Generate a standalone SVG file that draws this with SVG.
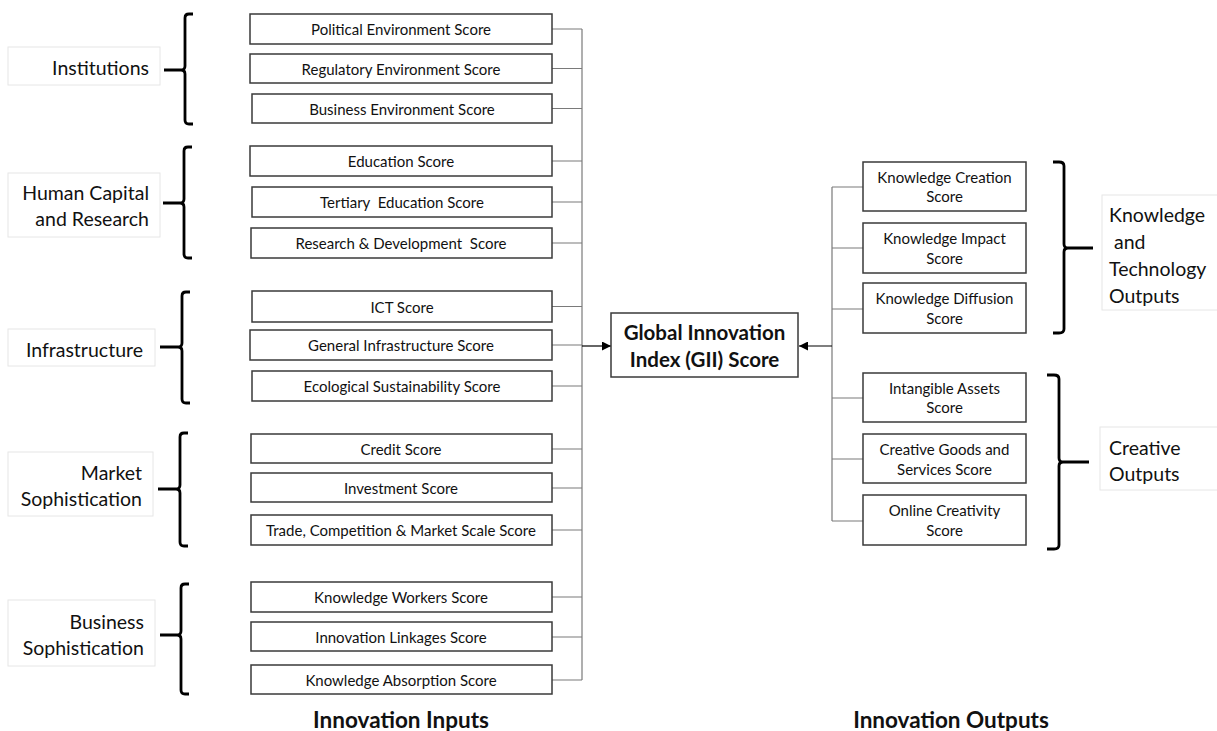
<svg xmlns="http://www.w3.org/2000/svg" width="1217" height="731" viewBox="0 0 1217 731">
<defs>
<style>
.bx{fill:#fff;stroke:#3a3a3a;stroke-width:1.5}
.lb{fill:#fff;stroke:#e6e6e6;stroke-width:1}
.t{font-family:Lato,"Liberation Sans",sans-serif;font-size:15px;fill:#111;text-anchor:middle;dominant-baseline:central;white-space:pre}
.g{font-family:Lato,"Liberation Sans",sans-serif;font-size:19.5px;fill:#111;dominant-baseline:central}
.b{font-family:Lato,"Liberation Sans",sans-serif;font-size:20.5px;font-weight:bold;fill:#111;text-anchor:middle;dominant-baseline:central}
.f{font-family:Lato,"Liberation Sans",sans-serif;font-size:22.5px;font-weight:bold;fill:#111;text-anchor:middle;dominant-baseline:central}
.c{fill:none;stroke:#7a7a7a;stroke-width:1.2}
.br{fill:none;stroke:#000;stroke-width:2.8;stroke-linecap:butt}
</style>
<marker id="ah" viewBox="0 0 10 10" refX="10" refY="5" markerWidth="9" markerHeight="9" markerUnits="userSpaceOnUse" orient="auto">
<path d="M0,0 L10,5 L0,10 z" fill="#000"/>
</marker>
</defs>

<g id="connectors">
<path class="c" d="M582 29 V680"/>
<path class="c" d="M552 29 H582 M552 68.5 H582 M552 108.5 H582 M552 161 H582 M552 202 H582 M552 243 H582 M552 306.5 H582 M552 345 H582 M552 386 H582 M552 449 H582 M552 488 H582 M552 530 H582 M552 597 H582 M552 637 H582 M552 680 H582"/>
<path d="M582 346 H611" stroke="#000" stroke-width="1.2" marker-end="url(#ah)"/>
<path class="c" d="M832 187 V521 M832 187 H863 M832 248 H863 M832 309 H863 M832 398 H863 M832 459 H863 M832 521 H863"/>
<path d="M832 346 H799" stroke="#000" stroke-width="1.2" marker-end="url(#ah)"/>
</g>

<g id="brace-institutions">
<rect class="lb" x="8" y="47" width="152" height="38"/>
<text class="g" x="149" y="67" text-anchor="end">Institutions</text>
<path class="br" d="M193 14 H189 Q185 14 185 18 V66 Q185 70 181 70 H164 M181 70 Q185 70 185 74 V120 Q185 124 189 124 H193"/>
</g>
<g id="brace-human">
<rect class="lb" x="8" y="173" width="152" height="64"/>
<text class="g" x="149" y="192" text-anchor="end">Human Capital</text>
<text class="g" x="149" y="218" text-anchor="end">and Research</text>
<path class="br" d="M192 147 H188 Q184 147 184 151 V199 Q184 203 180 203 H163 M180 203 Q184 203 184 207 V254 Q184 258 188 258 H192"/>
</g>
<g id="brace-infrastructure">
<rect class="lb" x="8" y="329" width="147" height="37"/>
<text class="g" x="143" y="349" text-anchor="end">Infrastructure</text>
<path class="br" d="M190 292 H186 Q182 292 182 296 V343 Q182 347 178 347 H160 M178 347 Q182 347 182 351 V399 Q182 403 186 403 H190"/>
</g>
<g id="brace-market">
<rect class="lb" x="8" y="452" width="145" height="64"/>
<text class="g" x="142" y="472" text-anchor="end">Market</text>
<text class="g" x="142" y="498" text-anchor="end">Sophistication</text>
<path class="br" d="M188 433 H184 Q180 433 180 437 V485 Q180 489 176 489 H158 M176 489 Q180 489 180 493 V542 Q180 546 184 546 H188"/>
</g>
<g id="brace-business">
<rect class="lb" x="8" y="600" width="147" height="66"/>
<text class="g" x="144" y="621" text-anchor="end">Business</text>
<text class="g" x="144" y="647" text-anchor="end">Sophistication</text>
<path class="br" d="M189 584 H185 Q181 584 181 588 V631 Q181 635 177 635 H160 M177 635 Q181 635 181 639 V690 Q181 694 185 694 H189"/>
</g>

<g id="n1"><rect class="bx" x="250" y="14" width="302" height="30"/><text class="t" x="401" y="29">Political Environment Score</text></g>
<g id="n2"><rect class="bx" x="250" y="54" width="302" height="29"/><text class="t" x="401" y="68.5">Regulatory Environment Score</text></g>
<g id="n3"><rect class="bx" x="252" y="94" width="300" height="29"/><text class="t" x="402" y="108.5">Business Environment Score</text></g>
<g id="n4"><rect class="bx" x="250" y="146" width="302" height="30"/><text class="t" x="401" y="161">Education Score</text></g>
<g id="n5"><rect class="bx" x="252" y="187" width="300" height="30"/><text class="t" x="402" y="202">Tertiary  Education Score</text></g>
<g id="n6"><rect class="bx" x="251" y="228" width="301" height="30"/><text class="t" x="401" y="243">Research &amp; Development  Score</text></g>
<g id="n7"><rect class="bx" x="252" y="291" width="300" height="31"/><text class="t" x="402" y="306.5">ICT Score</text></g>
<g id="n8"><rect class="bx" x="250" y="330" width="302" height="30"/><text class="t" x="401" y="345">General Infrastructure Score</text></g>
<g id="n9"><rect class="bx" x="252" y="371" width="300" height="30"/><text class="t" x="402" y="386">Ecological Sustainability Score</text></g>
<g id="n10"><rect class="bx" x="251" y="434" width="301" height="29"/><text class="t" x="401" y="449">Credit Score</text></g>
<g id="n11"><rect class="bx" x="251" y="473" width="301" height="29"/><text class="t" x="401" y="488">Investment Score</text></g>
<g id="n12"><rect class="bx" x="251" y="515" width="301" height="30"/><text class="t" x="401" y="530">Trade, Competition &amp; Market Scale Score</text></g>
<g id="n13"><rect class="bx" x="251" y="582" width="301" height="30"/><text class="t" x="401" y="597">Knowledge Workers Score</text></g>
<g id="n14"><rect class="bx" x="251" y="622" width="301" height="29"/><text class="t" x="401" y="637">Innovation Linkages Score</text></g>
<g id="n15"><rect class="bx" x="251" y="665" width="301" height="29"/><text class="t" x="401" y="680">Knowledge Absorption Score</text></g>

<g id="gii"><rect class="bx" x="611" y="313" width="187" height="64"/><text class="b" x="704.5" y="332">Global Innovation</text><text class="b" x="704.5" y="359">Index (GII) Score</text></g>

<g id="r1"><rect class="bx" x="863" y="162" width="163" height="49"/><text class="t" x="944.5" y="177">Knowledge Creation</text><text class="t" x="944.5" y="196">Score</text></g>
<g id="r2"><rect class="bx" x="863" y="223" width="163" height="50"/><text class="t" x="944.5" y="238">Knowledge Impact</text><text class="t" x="944.5" y="258">Score</text></g>
<g id="r3"><rect class="bx" x="863" y="283" width="163" height="50"/><text class="t" x="944.5" y="298">Knowledge Diffusion</text><text class="t" x="944.5" y="318">Score</text></g>
<g id="r4"><rect class="bx" x="863" y="373" width="163" height="49"/><text class="t" x="944.5" y="388">Intangible Assets</text><text class="t" x="944.5" y="407">Score</text></g>
<g id="r5"><rect class="bx" x="863" y="434" width="163" height="49"/><text class="t" x="944.5" y="449">Creative Goods and</text><text class="t" x="944.5" y="469">Services Score</text></g>
<g id="r6"><rect class="bx" x="863" y="495" width="163" height="50"/><text class="t" x="944.5" y="510">Online Creativity</text><text class="t" x="944.5" y="530">Score</text></g>

<g id="brace-knowledge">
<rect class="lb" x="1102" y="195" width="118" height="115"/>
<text class="g" x="1109" y="214">Knowledge</text>
<text class="g" x="1109" y="241" xml:space="preserve"> and</text>
<text class="g" x="1109" y="268">Technology</text>
<text class="g" x="1109" y="295">Outputs</text>
<path class="br" d="M1053 162 H1059 Q1064 162 1064 166 V244 Q1064 248 1068 248 H1093 M1068 248 Q1064 248 1064 252 V329 Q1064 333 1059 333 H1053"/>
</g>
<g id="brace-creative">
<rect class="lb" x="1100" y="427" width="120" height="63"/>
<text class="g" x="1109" y="447">Creative</text>
<text class="g" x="1109" y="473">Outputs</text>
<path class="br" d="M1047 375 H1054 Q1059 375 1059 379 V458 Q1059 462 1063 462 H1089 M1063 462 Q1059 462 1059 466 V545 Q1059 549 1054 549 H1047"/>
</g>

<g id="footer">
<text class="f" x="401" y="719">Innovation Inputs</text>
<text class="f" x="951" y="719">Innovation Outputs</text>
</g>
</svg>
